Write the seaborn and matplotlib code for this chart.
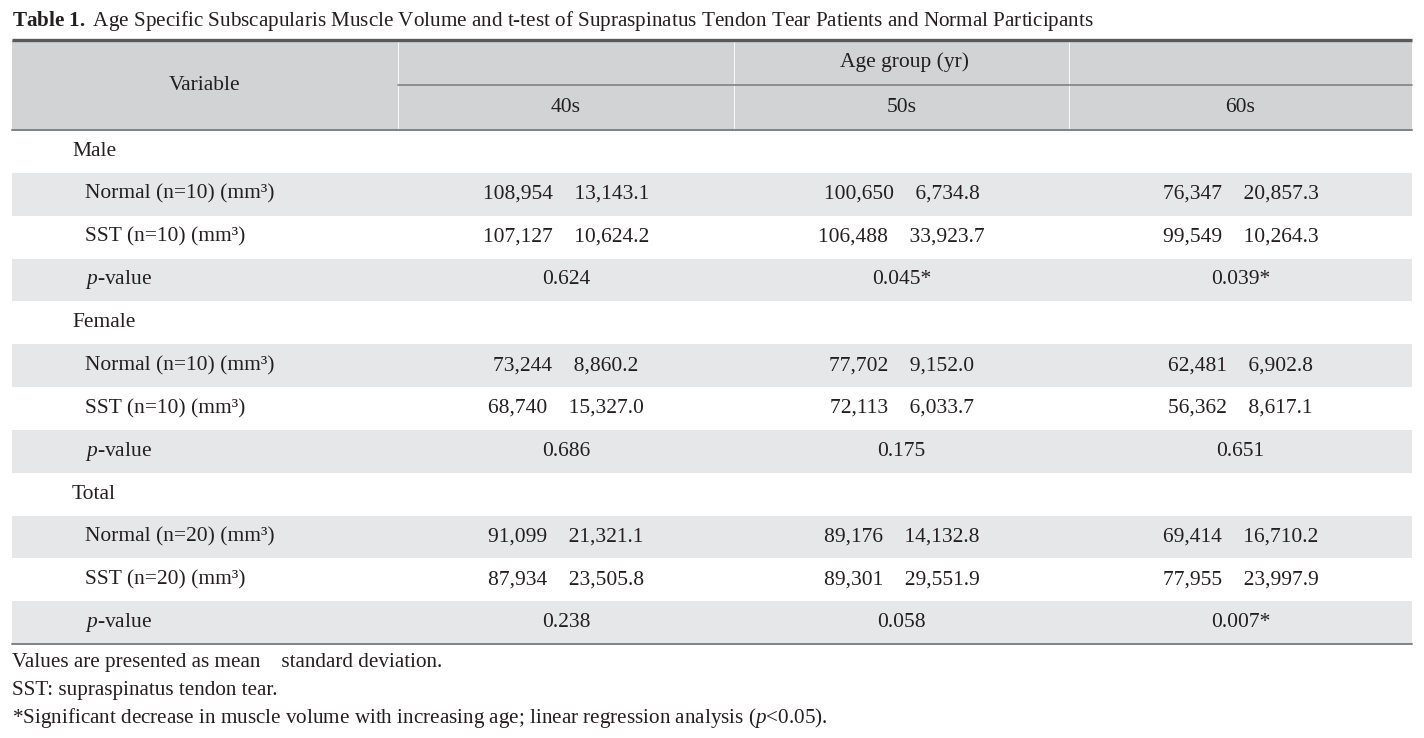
import matplotlib
matplotlib.use("Agg")
import matplotlib.pyplot as plt
from matplotlib.patches import Rectangle
import seaborn as sns

# ---------------- data ----------------
title_bold = "Table 1."
title_rest = "Age Specific Subscapularis Muscle Volume and t-test of Supraspinatus Tendon Tear Patients and Normal Participants"
age_groups = ["40s", "50s", "60s"]
sex_groups = ["Male", "Female", "Total"]
group_n = [10, 10, 20]

male_normal_mean = [108954, 100650, 76347]
male_normal_sd = [13143.1, 6734.8, 20857.3]
male_sst_mean = [107127, 106488, 99549]
male_sst_sd = [10624.2, 33923.7, 10264.3]
male_p = ["0.624", "0.045*", "0.039*"]

female_normal_mean = [73244, 77702, 62481]
female_normal_sd = [8860.2, 9152.0, 6902.8]
female_sst_mean = [68740, 72113, 56362]
female_sst_sd = [15327.0, 6033.7, 8617.1]
female_p = ["0.686", "0.175", "0.651"]

total_normal_mean = [91099, 89176, 69414]
total_normal_sd = [21321.1, 14132.8, 16710.2]
total_sst_mean = [87934, 89301, 77955]
total_sst_sd = [23505.8, 29551.9, 23997.9]
total_p = ["0.238", "0.058", "0.007*"]

footnotes = [
    "Values are presented as mean    standard deviation.",
    "SST: supraspinatus tendon tear.",
    "*Significant decrease in muscle volume with increasing age; linear regression analysis ($p$<0.05).",
]

# ---------------- style ----------------
sns.set_theme(style="white")
plt.rcParams["font.family"] = ["Liberation Serif", "DejaVu Serif"]
plt.rcParams["mathtext.fontset"] = "custom"
plt.rcParams["mathtext.rm"] = "Liberation Serif"
plt.rcParams["mathtext.it"] = "Liberation Serif:italic"
plt.rcParams["mathtext.bf"] = "Liberation Serif:bold"

TXT = "#231f20"
HEAD_BG = "#d1d3d4"
STRIPE = "#e6e7e8"
FS = 15.5
FS_NOTE = 15.2

W, H = 1424, 738
fig = plt.figure(figsize=(W / 100, H / 100), dpi=100)
ax = fig.add_axes([0, 0, 1, 1])
ax.set_xlim(0, W)
ax.set_ylim(H, 0)
ax.axis("off")

L, R = 12, 1412
col_edges = [398, 734, 1069, 1412]
col_centers = [(col_edges[i] + col_edges[i + 1]) / 2 for i in range(3)]

# title
ax.text(L, 21, r"$\bf{Table\ 1.}$" + title_rest.join([" ", ""]), fontsize=15.2, color=TXT,
        ha="left", va="center")

# header
top, mid, hbot = 40, 85, 130
ax.add_patch(Rectangle((L, top), R - L, hbot - top, color=HEAD_BG, lw=0, zorder=0))
for x in col_edges[:3]:
    ax.plot([x, x], [top, hbot], color="white", lw=0.6, zorder=1)
ax.plot([L, R], [top, top], color="#58595b", lw=2.4, zorder=3, solid_capstyle="butt")
ax.plot([col_edges[0], R], [mid, mid], color="#808285", lw=1.2, zorder=3)
ax.plot([L, R], [hbot, hbot], color="#808285", lw=1.4, zorder=3)

ax.text((L + col_edges[0]) / 2, (top + hbot) / 2, "Variable", fontsize=FS, color=TXT,
        ha="center", va="center")
ax.text((col_edges[0] + R) / 2, (top + mid) / 2, "Age group (yr)", fontsize=FS, color=TXT,
        ha="center", va="center")
for cx, ag in zip(col_centers, age_groups):
    ax.text(cx, (mid + hbot) / 2, ag, fontsize=FS, color=TXT, ha="center", va="center")

# body
bottom = 644
n_rows = 12
rh = (bottom - hbot) / n_rows

blocks = [
    (male_normal_mean, male_normal_sd, male_sst_mean, male_sst_sd, male_p),
    (female_normal_mean, female_normal_sd, female_sst_mean, female_sst_sd, female_p),
    (total_normal_mean, total_normal_sd, total_sst_mean, total_sst_sd, total_p),
]


def fmt(m, s):
    return f"{m:,}    {s:,.1f}"


row = 0
for sex, n, (nm, nsd, sm, ssd, pv) in zip(sex_groups, group_n, blocks):
    y0 = hbot + row * rh
    ax.text(72, y0 + rh / 2, sex, fontsize=FS, color=TXT, ha="left", va="center")
    row += 1
    rows_content = [
        (f"Normal (n={n}) (mm\u00b3)", [fmt(a, b) for a, b in zip(nm, nsd)], True),
        (f"SST (n={n}) (mm\u00b3)", [fmt(a, b) for a, b in zip(sm, ssd)], False),
        ("$p$-value", pv, True),
    ]
    for label, cells, shaded in rows_content:
        y0 = hbot + row * rh
        if shaded:
            ax.add_patch(Rectangle((L, y0), R - L, rh, color=STRIPE, lw=0, zorder=0))
        yc = y0 + rh / 2
        ax.text(85, yc, label, fontsize=FS, color=TXT, ha="left", va="center")
        for cx, c in zip(col_centers, cells):
            ax.text(cx, yc, c, fontsize=FS, color=TXT, ha="center", va="center")
        row += 1

ax.plot([L, R], [bottom, bottom], color="#808285", lw=1.4, zorder=3)

for i, fn in enumerate(footnotes):
    ax.text(L, 662 + i * 28, fn, fontsize=FS_NOTE, color=TXT, ha="left", va="center")

fig.savefig("out.png", dpi=100)
